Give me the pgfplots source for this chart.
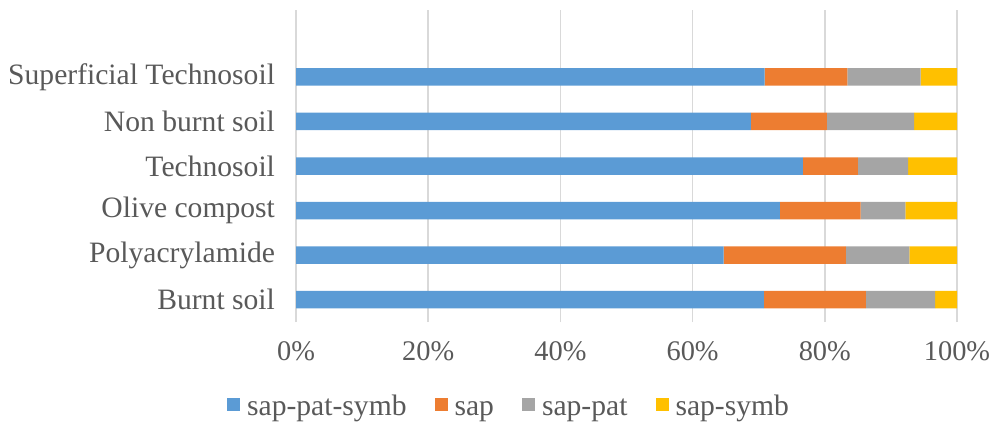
\documentclass[border=0pt]{standalone}
\usepackage{fontspec}
\setmainfont{Liberation Serif}
\usepackage{pgfplots}
\pgfplotsset{compat=1.18}

\definecolor{cblue}{HTML}{5B9BD5}
\definecolor{corange}{HTML}{ED7D31}
\definecolor{cgray}{HTML}{A5A5A5}
\definecolor{cyellow}{HTML}{FFC000}
\definecolor{gridgray}{HTML}{D9D9D9}
\definecolor{textgray}{HTML}{595959}

% Share (%) of each interaction type per treatment
% rows: Burnt soil, Polyacrylamide, Olive compost, Technosoil, Non burnt soil, Superficial Technosoil
\begin{document}
\begin{tikzpicture}
\useasboundingbox (0,0) rectangle (497.5pt,211.5pt);
\begin{axis}[
  at={(148pt,50.5pt)}, anchor=south west,
  scale only axis, width=330.5pt, height=156pt,
  xbar stacked, bar width=8.75pt,
  xmin=0, xmax=100, ymin=-0.5, ymax=6.5,
  ytick={0,1,2,3,4,5},
  yticklabels={Burnt soil,Polyacrylamide,Olive compost,Technosoil,Non burnt soil,Superficial Technosoil},
  xtick={0,20,40,60,80,100},
  xticklabels={0\%,20\%,40\%,60\%,80\%,100\%},
  xmajorgrids, grid style={draw=gridgray, line width=0.75pt},
  axis line style={draw=none}, major tick length=0pt,
  tick label style={text=textgray},
  xticklabel style={font=\fontsize{14.2}{16}\selectfont, yshift=-6.5pt},
  yticklabel style={font=\fontsize{14.8}{17}\selectfont, xshift=-7pt},
  legend columns=4,
  legend style={draw=none, fill=none, at={(0.3238,-0.266)}, anchor=center,
    font=\fontsize{14.8}{17}\selectfont, text=textgray,
    /tikz/every even column/.append style={column sep=12pt},
    /tikz/every odd column/.append style={column sep=1.5pt},
    inner sep=0pt},
  legend image code/.code={\fill[#1] (0pt,-3.25pt) rectangle (6.5pt,3.25pt);},
  every axis plot/.append style={draw=none},
]
\addplot[fill=cblue] coordinates {(70.8,0) (64.7,1) (73.2,2) (76.7,3) (68.8,4) (70.9,5)};
\addplot[fill=corange] coordinates {(15.4,0) (18.5,1) (12.2,2) (8.3,3) (11.5,4) (12.5,5)};
\addplot[fill=cgray] coordinates {(10.5,0) (9.6,1) (6.8,2) (7.6,3) (13.2,4) (11.1,5)};
\addplot[fill=cyellow] coordinates {(3.3,0) (7.2,1) (7.8,2) (7.4,3) (6.5,4) (5.5,5)};
\legend{\strut sap-pat-symb,\strut sap,\strut sap-pat,\strut sap-symb}
\end{axis}
\end{tikzpicture}
\end{document}
